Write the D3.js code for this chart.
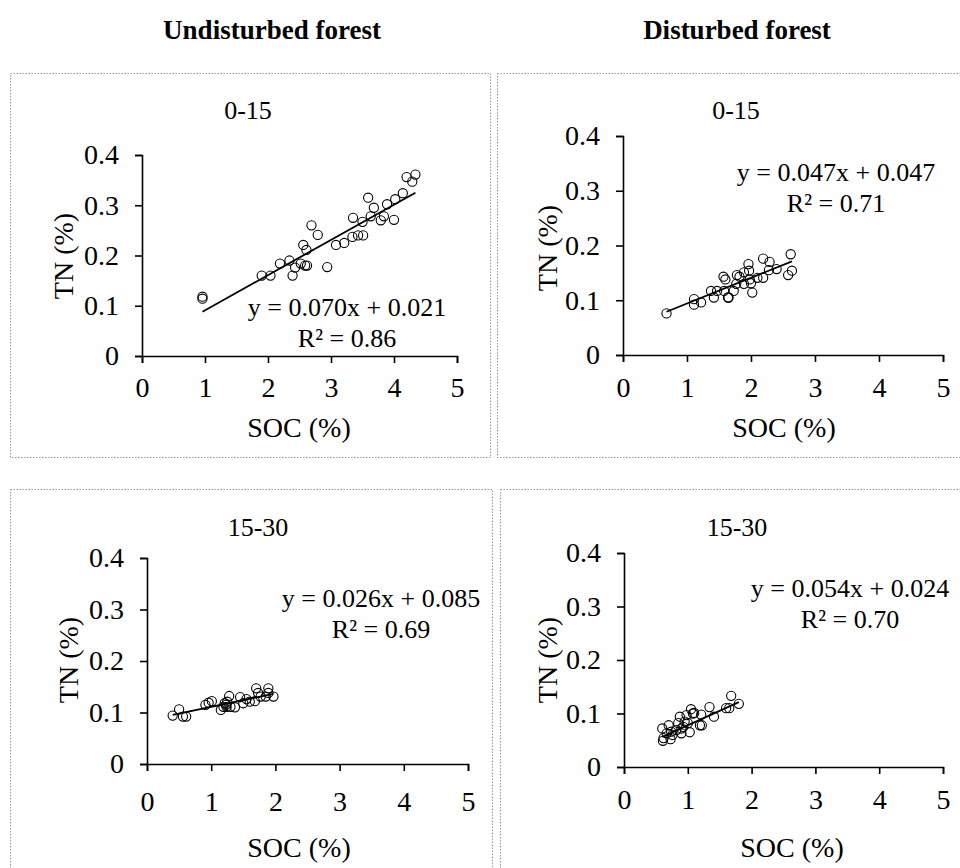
<!DOCTYPE html>
<html>
<head>
<meta charset="utf-8">
<script src="https://cdn.jsdelivr.net/npm/d3@7"></script>
<style>
  body { margin: 0; background: #fff; }
</style>
</head>
<body>
<div id="chart"></div>
<script>
// ---- data ----
const xTicks = [0, 1, 2, 3, 4, 5]
const yTicks = [0, 0.1, 0.2, 0.3, 0.4]
const forestTypes = ['Undisturbed forest', 'Disturbed forest']
const depths = ['0-15', '0-15', '15-30', '15-30']

// undisturbed, 0-15
const socUnd015 = [0.96, 0.96, 1.90, 2.04, 2.19, 2.34, 2.39, 2.43, 2.52, 2.56, 2.61, 2.59, 2.62, 2.69, 2.79, 2.94, 3.08, 3.21,
  3.34, 3.35, 3.43, 3.51, 3.50, 3.59, 3.63, 3.68, 3.79, 3.84, 3.89, 4.00, 4.02, 4.14, 4.20, 4.29, 4.34]
const tnUnd015 = [0.118, 0.114, 0.160, 0.160, 0.184, 0.190, 0.160, 0.176, 0.184, 0.221, 0.211, 0.180, 0.180, 0.260, 0.241, 0.177, 0.221, 0.225,
  0.237, 0.275, 0.240, 0.240, 0.267, 0.315, 0.278, 0.295, 0.270, 0.278, 0.302, 0.271, 0.312, 0.324, 0.356, 0.347, 0.361]
// disturbed, 0-15
const socDis015 = [0.68, 1.11, 1.11, 1.22, 1.375, 1.42, 1.47, 1.57, 1.60, 1.58, 1.64, 1.65, 1.73, 1.77, 1.78, 1.82, 1.89, 1.89,
  1.96, 1.97, 1.98, 2.00, 2.02, 2.10, 2.19, 2.19, 2.29, 2.28, 2.40, 2.58, 2.64, 2.62]
const tnDis015 = [0.076, 0.102, 0.092, 0.096, 0.117, 0.105, 0.117, 0.143, 0.138, 0.117, 0.105, 0.105, 0.117, 0.130, 0.146, 0.143, 0.130, 0.151,
  0.166, 0.154, 0.138, 0.131, 0.114, 0.141, 0.141, 0.176, 0.170, 0.155, 0.157, 0.146, 0.154, 0.184]
// undisturbed, 15-30
const socUnd1530 = [0.40, 0.50, 0.56, 0.61, 0.91, 0.96, 1.01, 1.15, 1.21, 1.23, 1.25, 1.28, 1.30, 1.37, 1.45, 1.50, 1.55, 1.60,
  1.68, 1.70, 1.73, 1.77, 1.85, 1.89, 1.89, 1.97, 1.19, 1.24]
const tnUnd1530 = [0.094, 0.106, 0.092, 0.092, 0.115, 0.119, 0.122, 0.105, 0.118, 0.115, 0.121, 0.132, 0.111, 0.110, 0.130, 0.118, 0.126, 0.121,
  0.122, 0.147, 0.138, 0.131, 0.131, 0.147, 0.138, 0.131, 0.111, 0.111]
// disturbed, 15-30
const socDis1530 = [0.61, 0.62, 0.60, 0.70, 0.67, 0.74, 0.73, 0.82, 0.875, 0.90, 0.93, 0.95, 0.98, 1.03, 1.05, 1.08, 1.10, 1.19,
  1.21, 1.22, 1.34, 1.41, 1.60, 1.65, 1.68, 1.80, 0.85, 1.00, 0.90, 0.76]
const tnDis1530 = [0.049, 0.054, 0.072, 0.078, 0.063, 0.066, 0.052, 0.069, 0.094, 0.063, 0.075, 0.085, 0.097, 0.065, 0.108, 0.100, 0.101, 0.078,
  0.098, 0.078, 0.112, 0.094, 0.110, 0.110, 0.133, 0.118, 0.082, 0.082, 0.072, 0.060]

const socSeries = [socUnd015, socDis015, socUnd1530, socDis1530]
const tnSeries = [tnUnd015, tnDis015, tnUnd1530, tnDis1530]
const slopes = [0.070, 0.047, 0.026, 0.054]
const intercepts = [0.021, 0.047, 0.085, 0.024]
const rSquared = [0.86, 0.71, 0.69, 0.70]

// ---- layout (pixels) ----
const W = 960, H = 868
const FONT = 26       // titles, equations
const AXIS_FONT = 28  // tick labels, axis titles
const SERIF = '"Liberation Serif", "Times New Roman", Times, serif'
const headerPos = [[272, 39], [737, 39]]
const panels = [
  { frame: [10, 73, 480, 384], xr: [142, 457], yr: [356, 155], xPad: 14, title: [248, 119], eq: [347, 316], xLab: [299, 437], yLab: [63, 256] },
  { frame: [497, 73, 470, 384], xr: [623, 943], yr: [355, 136], xPad: 15, title: [736, 119], eq: [836, 181], xLab: [784, 437], yLab: [547, 248] },
  { frame: [10, 489, 482, 390], xr: [147, 468], yr: [764, 558], xPad: 20, title: [258, 536], eq: [381, 607], xLab: [299, 857], yLab: [68, 660] },
  { frame: [500, 489, 470, 390], xr: [624, 943], yr: [767, 553], xPad: 15, title: [737, 536], eq: [850, 597], xLab: [792, 857], yLab: [547, 660] }
]

const svg = d3.select('#chart').append('svg')
  .attr('width', W)
  .attr('height', H)
  .attr('viewBox', `0 0 ${W} ${H}`)
  .style('font-family', SERIF)

svg.selectAll('text.header')
  .data(forestTypes)
  .join('text')
  .attr('class', 'header')
  .attr('x', (d, i) => headerPos[i][0])
  .attr('y', (d, i) => headerPos[i][1])
  .attr('text-anchor', 'middle')
  .attr('font-size', 27)
  .attr('font-weight', 'bold')
  .style('font-family', SERIF)
  .text(d => d)

function drawPanel(p, i) {
  const g = svg.append('g')
  const [fx, fy, fw, fh] = p.frame

  // dotted frame
  g.append('rect')
    .attr('x', fx + 0.5).attr('y', fy + 0.5)
    .attr('width', fw).attr('height', fh)
    .attr('fill', 'none')
    .attr('stroke', '#9a9a9a')
    .attr('stroke-width', 1)
    .attr('stroke-dasharray', '1.5 1.5')

  const x = d3.scaleLinear().domain([0, 5]).range(p.xr)
  const y = d3.scaleLinear().domain([0, 0.4]).range(p.yr)

  const xAxis = g.append('g')
    .attr('transform', `translate(0,${p.yr[0]})`)
    .call(d3.axisBottom(x).tickValues(xTicks).tickSize(7).tickPadding(p.xPad).tickFormat(d3.format('d')))
  const yAxis = g.append('g')
    .attr('transform', `translate(${p.xr[0]},0)`)
    .call(d3.axisLeft(y).tickValues(yTicks).tickSize(7).tickPadding(16)
      .tickFormat(d => d === 0 ? '0' : d3.format('.1f')(d)))

  for (const ax of [xAxis, yAxis]) {
    ax.attr('font-family', null).attr('font-size', null)
    ax.selectAll('path, line').attr('stroke', '#000').attr('stroke-width', 1.6)
    ax.selectAll('text').attr('font-size', AXIS_FONT).attr('fill', '#000').style('font-family', SERIF)
  }

  // fitted line over the data range
  const soc = socSeries[i], tn = tnSeries[i]
  const ext = d3.extent(soc)
  const fit = x0 => slopes[i] * x0 + intercepts[i]
  g.append('path')
    .datum(ext)
    .attr('fill', 'none')
    .attr('stroke', '#000')
    .attr('stroke-width', 1.8)
    .attr('d', d3.line().x(d => x(d)).y(d => y(fit(d))))

  g.append('g')
    .selectAll('circle')
    .data(d3.range(soc.length))
    .join('circle')
    .attr('cx', k => x(soc[k]))
    .attr('cy', k => y(tn[k]))
    .attr('r', 4.6)
    .attr('fill', 'none')
    .attr('stroke', '#000')
    .attr('stroke-width', 1.1)

  const label = (tx, ty, str, size) => g.append('text')
    .attr('x', tx).attr('y', ty)
    .attr('text-anchor', 'middle').attr('font-size', size)
    .style('font-family', SERIF)
    .text(str)

  label(p.title[0], p.title[1], depths[i], FONT)
  label(p.eq[0], p.eq[1], `y = ${slopes[i].toFixed(3)}x + ${intercepts[i].toFixed(3)}`, FONT)
  label(p.eq[0], p.eq[1] + 31, `R² = ${rSquared[i].toFixed(2)}`, FONT)
  label(p.xLab[0], p.xLab[1], 'SOC (%)', AXIS_FONT)

  g.append('text')
    .attr('transform', `translate(${p.yLab[0]},${p.yLab[1]}) rotate(-90)`)
    .attr('text-anchor', 'middle').attr('dy', '0.35em').attr('font-size', AXIS_FONT)
    .style('font-family', SERIF)
    .text('TN (%)')
}

panels.forEach(drawPanel)
</script>
</body>
</html>
